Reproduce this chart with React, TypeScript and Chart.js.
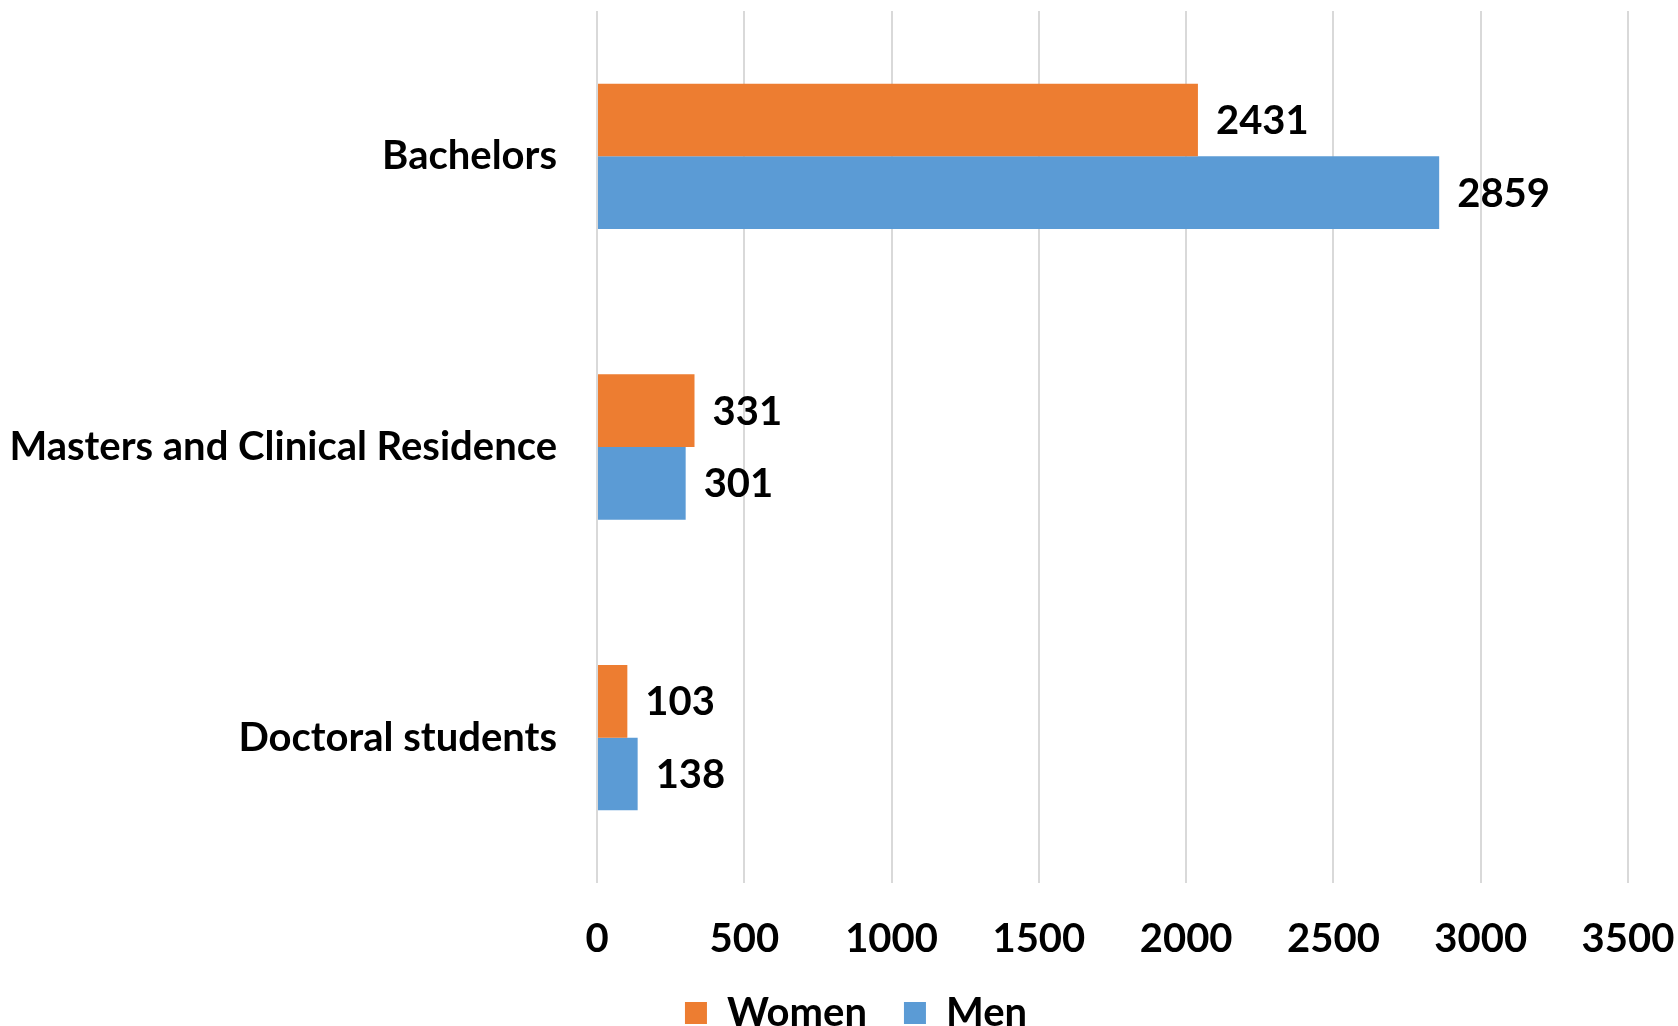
import React, { useEffect, useRef } from "react";
import { Chart, registerables } from "chart.js";

Chart.register(...registerables);

const categories = ["Bachelors", "Masters and Clinical Residence", "Doctoral students"];
const womenValues = [2040, 331, 103];
const menValues = [2859, 301, 138];
const womenLabels = ["2431", "331", "103"];
const menLabels = ["2859", "301", "138"];
const xTicks = [0, 500, 1000, 1500, 2000, 2500, 3000, 3500];

const FONT = "Lato";
const FS = 40;
const CANVAS_H = 1043;

const labelPlugin = {
  id: "barLabels",
  afterDatasetsDraw(chart: any) {
    const ctx = chart.ctx;
    ctx.save();
    ctx.font = `bold ${FS}px ${FONT}`;
    ctx.fillStyle = "#000";
    ctx.textAlign = "left";
    ctx.textBaseline = "middle";
    const labelSets = [womenLabels, menLabels];
    chart.data.datasets.forEach((ds: any, di: number) => {
      const meta = chart.getDatasetMeta(di);
      meta.data.forEach((el: any, i: number) => {
        ctx.fillText(labelSets[di][i], el.x + 18, el.y + 1);
      });
    });
    ctx.restore();
  },
};

const legendShift = {
  id: "legendShift",
  afterLayout(chart: any) {
    if (chart.legend) chart.legend.left += 84;
  },
};

export default function App() {
  const ref = useRef<HTMLCanvasElement>(null);
  useEffect(() => {
    document.body.style.margin = "0";
    const chart = new Chart(ref.current!, {
      type: "bar",
      data: {
        labels: categories,
        datasets: [
          { label: "Women", data: womenValues, backgroundColor: "#ED7D31", categoryPercentage: 0.5, barPercentage: 1 },
          { label: "Men", data: menValues, backgroundColor: "#5B9BD5", categoryPercentage: 0.5, barPercentage: 1 },
        ],
      },
      options: {
        indexAxis: "y",
        animation: false,
        responsive: false,
        layout: { padding: { top: 11, right: 50, left: 0, bottom: 0 } },
        scales: {
          x: {
            min: 0,
            max: 3500,
            afterBuildTicks(scale: any) {
              scale.ticks = xTicks.map((v) => ({ value: v }));
            },
            afterFit(scale: any) {
              scale.paddingLeft = 0;
              scale.paddingRight = 0;
              scale.height = 73;
            },
            grid: { color: "#d9d9d9", lineWidth: 2, drawTicks: false },
            border: { display: false },
            ticks: {
              padding: 32,
              color: "#000",
              font: { family: FONT, size: FS, weight: "bold" },
              callback: (v: any) => String(v),
            },
          },
          y: {
            grid: { display: false, drawTicks: false },
            border: { display: false },
            afterFit(scale: any) {
              scale.width = 597;
              scale.paddingTop = 0;
              scale.paddingBottom = 0;
            },
            ticks: { padding: 40, color: "#000", font: { family: FONT, size: FS, weight: "bold" } },
          },
        },
        plugins: {
          legend: {
            position: "bottom",
            labels: {
              boxWidth: 22,
              boxHeight: 22,
              color: "#000",
              padding: 37,
              font: { family: FONT, size: FS, weight: "bold" },
            },
          },
          tooltip: { enabled: false },
        },
      },
      plugins: [labelPlugin, legendShift],
    });
    return () => chart.destroy();
  }, []);
  return (
    <div style={{ position: "absolute", left: 0, top: 0, width: 1678, height: 1026, overflow: "hidden" }}>
      <canvas ref={ref} width={1678} height={CANVAS_H} />
    </div>
  );
}
